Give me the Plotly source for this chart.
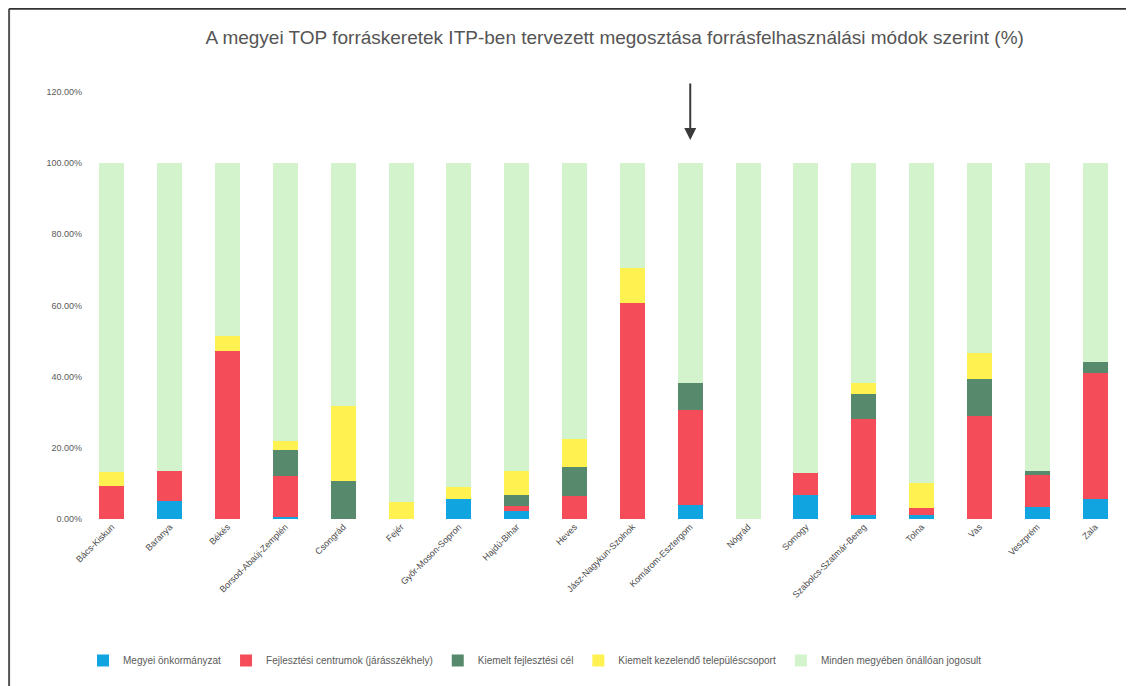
"""Stacked bar chart: TOP county budgets split by resource-use mode (ITP)."""
import plotly.graph_objects as go

# ── data ─────────────────────────────────────────────────────
counties = [
    "Bács-Kiskun", "Baranya", "Békés", "Borsod-Abaúj-Zemplén", "Csongrád",
    "Fejér", "Győr-Moson-Sopron", "Hajdú-Bihar", "Heves",
    "Jász-Nagykun-Szolnok", "Komárom-Esztergom", "Nógrád", "Somogy",
    "Szabolcs-Szatmár-Bereg", "Tolna", "Vas", "Veszprém", "Zala",
]
megyei_onk = [0, 5.1, 0, 0.5, 0, 0, 5.6, 2.2, 0, 0, 3.9, 0, 6.7, 1.0, 1.0, 0, 3.4, 5.6]
fejl_centrum = [9.3, 8.4, 47.2, 11.6, 0, 0, 0, 1.5, 6.5, 60.7, 26.7, 0, 6.2, 27.0, 2.1, 28.9, 9.0, 35.4]
kiemelt_fejl = [0, 0, 0, 7.3, 10.7, 0, 0, 3.0, 8.1, 0, 7.6, 0, 0, 7.0, 0, 10.4, 1.1, 3.1]
kiemelt_kez = [3.9, 0, 4.2, 2.5, 21.0, 4.8, 3.4, 6.8, 7.9, 9.8, 0, 0, 0, 3.1, 7.0, 7.3, 0, 0]
series_names = [
    "Megyei önkormányzat",
    "Fejlesztési centrumok (járásszékhely)",
    "Kiemelt fejlesztési cél",
    "Kiemelt kezelendő településcsoport",
    "Minden megyében önállóan jogosult",
]
y_ticks = [0, 20, 40, 60, 80, 100, 120]
y_tick_labels = ["0.00%", "20.00%", "40.00%", "60.00%", "80.00%", "100.00%", "120.00%"]
marked_county = "Komárom-Esztergom"

# ── palette ──────────────────────────────────────────────────
_BLUE = "#10a4e0"
_RED = "#f44c58"
_DGREEN = "#578a6c"
_YELLOW = "#fff250"
_LGREEN = "#d2f3cb"
_TEXT = "#5a5a5a"
_FONT = "Liberation Sans Narrow, Arial Narrow, Liberation Sans, sans-serif"

rest = [round(100 - a - b - c - d, 2)
        for a, b, c, d in zip(megyei_onk, fejl_centrum, kiemelt_fejl, kiemelt_kez)]
stack = [megyei_onk, fejl_centrum, kiemelt_fejl, kiemelt_kez, rest]
colors = [_BLUE, _RED, _DGREEN, _YELLOW, _LGREEN]

fig = go.Figure()
for name, vals, col in zip(series_names, stack, colors):
    fig.add_trace(go.Bar(
        x=counties, y=vals, name=name, width=0.43,
        marker=dict(color=col, line=dict(width=0)),
    ))

# page body adds an 8px offset, margins are set to compensate
fig.update_layout(
    width=1134, height=686,
    barmode="stack", bargap=0.57,
    paper_bgcolor="white", plot_bgcolor="white",
    font=dict(family=_FONT, color=_TEXT, size=10),
    margin=dict(l=75, r=18, t=84, b=175, autoexpand=False),
    title=dict(
        text="A megyei TOP forráskeretek ITP-ben tervezett megosztása "
             "forrásfelhasználási módok szerint (%)",
        font=dict(size=19, color="#555555"), x=0.535, xanchor="center",
        y=0.957, yanchor="middle",
    ),
    xaxis=dict(tickangle=-45, tickfont=dict(size=9, color="#4a4a4a"),
               showline=False, showgrid=False, ticks=""),
    yaxis=dict(range=[0, 120], tickvals=y_ticks, ticktext=y_tick_labels,
               showgrid=False, zeroline=False,
               tickfont=dict(size=9, color=_TEXT), ticks=""),
    legend=dict(orientation="h", x=0.0, xanchor="left",
                yref="container", y=0.07, yanchor="top",
                font=dict(size=10, color=_TEXT),
                traceorder="normal", itemwidth=30),
    annotations=[dict(
        x=marked_county, y=106.5, xref="x", yref="y",
        ax=0, ay=-58, showarrow=True, arrowhead=2, arrowsize=1.2,
        arrowwidth=2, arrowcolor="#3a3a3a", text="",
    )],
    shapes=[
        dict(type="line", xref="paper", yref="paper", x0=-0.071, x1=-0.071,
             y0=-0.41, y1=1.195, line=dict(color="#555555", width=2)),
        dict(type="line", xref="paper", yref="paper", x0=-0.071, x1=1.016,
             y0=1.195, y1=1.195, line=dict(color="#333333", width=2)),
    ],
)

fig.write_html("out.html")
